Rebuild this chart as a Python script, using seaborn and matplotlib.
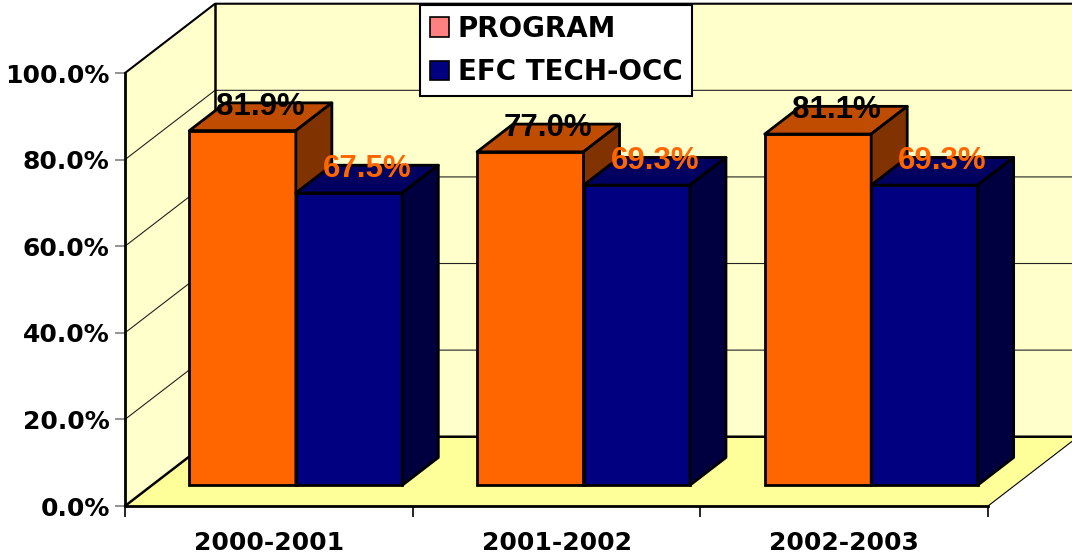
import pandas as pd
import matplotlib
matplotlib.use("Agg")
import matplotlib.pyplot as plt
from matplotlib.patches import Polygon, Patch
import seaborn as sns

# Chart data
YEARS = ["2000-2001", "2001-2002", "2002-2003"]
SERIES = ["PROGRAM", "EFC TECH-OCC"]
PROGRAM = [81.9, 77.0, 81.1]
EFC_TECH_OCC = [67.5, 69.3, 69.3]
Y_TICKS = [0, 20, 40, 60, 80, 100]

# Colours (front, top, side)
SERIES_COLORS = {
    "PROGRAM": ("#FF6600", "#BF4C00", "#803300"),
    "EFC TECH-OCC": ("#000080", "#000060", "#000040"),
}
LEGEND_COLORS = ["#FF8080", "#000080"]
LABEL_COLORS = ["black", "#FF6600"]
WALL = "#FFFFCC"
FLOOR = "#FFFF99"

# Fake 3D projection (data units)
DX, DY = 0.313, 16.0          # full depth of the box
OX, OY = 0.3 * DX, 0.3 * DY   # front face of the bars
BDX, BDY = 0.4 * DX, 0.4 * DY  # depth of one bar


def draw_box(ax):
    """Walls, floor and gridlines of the 3D box."""
    x0, x1 = -0.5, 2.5
    kw = dict(clip_on=False)
    ax.add_patch(Polygon([(x0 + DX, DY), (x1 + DX + 0.5, DY),
                          (x1 + DX + 0.5, 100 + DY), (x0 + DX, 100 + DY)],
                         facecolor=WALL, edgecolor="none", zorder=0, **kw))
    ax.add_patch(Polygon([(x0, 0), (x0, 100), (x0 + DX, 100 + DY), (x0 + DX, DY)],
                         facecolor=WALL, edgecolor="none", zorder=0, **kw))
    ax.add_patch(Polygon([(x0, 0), (x1, 0), (x1 + DX, DY), (x0 + DX, DY)],
                         facecolor=FLOOR, edgecolor="none", zorder=0.5, **kw))
    for v in Y_TICKS[1:-1]:
        ax.plot([x0, x0 + DX, x1 + DX + 0.5], [v, v + DY, v + DY],
                color="#222222", lw=0.8, zorder=0.6, **kw)
    # box outline
    ax.plot([x0, x0 + DX, x1 + DX + 0.5], [100, 100 + DY, 100 + DY],
            color="black", lw=1.5, zorder=0.7, **kw)
    ax.plot([x0 + DX, x0 + DX], [DY, 100 + DY], color="black", lw=1.8, zorder=0.7, **kw)
    ax.plot([x0, x0 + DX, x1 + DX + 0.5], [0, DY, DY], color="black", lw=1.8, zorder=0.7, **kw)
    ax.plot([x1, x1 + DX], [0, DY], color="black", lw=0.8, zorder=0.7, **kw)


def main():
    sns.set_style("white")
    plt.rcParams["font.family"] = ["DejaVu Sans"]
    plt.rcParams["text.color"] = "black"
    plt.rcParams["xtick.color"] = "black"
    plt.rcParams["ytick.color"] = "black"

    df = pd.DataFrame({
        "year": YEARS * 2,
        "series": [SERIES[0]] * 3 + [SERIES[1]] * 3,
        "value": PROGRAM + EFC_TECH_OCC,
    })

    fig = plt.figure(figsize=(10.72, 5.59), dpi=100)
    ax = fig.add_axes([125 / 1072, 53 / 559, 863 / 1072, 433 / 559])

    sns.barplot(data=df, x="year", y="value", hue="series", order=YEARS,
                hue_order=SERIES, palette=[SERIES_COLORS[s][0] for s in SERIES],
                width=0.74, edgecolor="black", linewidth=2, saturation=1,
                legend=False, ax=ax)
    bars = list(ax.patches)

    draw_box(ax)

    # Turn flat bars into boxes and label them
    for i, bar in enumerate(bars):
        s = i // len(YEARS)
        front, top, side = SERIES_COLORS[SERIES[s]]
        x = bar.get_x() + OX
        w = bar.get_width()
        h = bar.get_height()
        z = 10 + 2 * x
        bar.set_x(x)
        bar.set_y(OY)
        bar.set_zorder(z)
        bar.set_clip_on(False)
        yt = OY + h
        ax.add_patch(Polygon([(x, yt), (x + w, yt), (x + w + BDX, yt + BDY), (x + BDX, yt + BDY)],
                             facecolor=top, edgecolor="black", lw=2, joinstyle="round",
                             zorder=z, clip_on=False))
        ax.add_patch(Polygon([(x + w, OY), (x + w + BDX, OY + BDY), (x + w + BDX, yt + BDY), (x + w, yt)],
                             facecolor=side, edgecolor="black", lw=2, joinstyle="round",
                             zorder=z, clip_on=False))
        ax.text(x + w / 2 + BDX / 2, yt + BDY / 2 + 2.3, f"{h:.1f}%",
                ha="center", va="center", color=LABEL_COLORS[s],
                family="Liberation Sans", fontweight="bold", fontsize=22.5,
                zorder=50, clip_on=False)

    ax.set_xlim(-0.5, 2.5)
    ax.set_ylim(0, 100)
    ax.set_facecolor("none")
    ax.set_xlabel("")
    ax.set_ylabel("")

    ax.set_yticks(Y_TICKS)
    ax.set_yticklabels([f"{v:.1f}%" for v in Y_TICKS], fontweight="bold", fontsize=18,
                       color="black")
    ax.tick_params(axis="y", left=True, length=7, width=1.2, color="#808080", pad=4)

    ax.set_xticks([-0.5, 0.5, 1.5, 2.5])
    ax.set_xticklabels([])
    ax.set_xticks([0, 1, 2], minor=True)
    ax.set_xticklabels(YEARS, minor=True, fontweight="bold", fontsize=18, color="black")
    ax.tick_params(axis="x", which="major", bottom=True, length=8, width=1.2, color="black")
    ax.tick_params(axis="x", which="minor", bottom=True, length=0, pad=18)

    for side_name in ["top", "right"]:
        ax.spines[side_name].set_visible(False)
    for side_name in ["left", "bottom"]:
        ax.spines[side_name].set_color("black")
        ax.spines[side_name].set_linewidth(2)
        ax.spines[side_name].set_zorder(5)

    handles = [Patch(facecolor=c, edgecolor="black", lw=1.2) for c in LEGEND_COLORS]
    leg = fig.legend(handles, SERIES, loc="upper left", bbox_to_anchor=(420 / 1072, 554 / 559),
                     bbox_transform=fig.transFigure, borderaxespad=0, fancybox=False,
                     framealpha=1, edgecolor="black", handlelength=0.7, handleheight=0.7,
                     handletextpad=0.3, labelspacing=0.55, borderpad=0.35,
                     prop={"weight": "bold", "size": 20})
    leg.get_frame().set_linewidth(1.5)
    for t in leg.get_texts():
        t.set_color("black")
    leg.set_zorder(100)

    fig.savefig("out.png", dpi=100)
    plt.close(fig)


if __name__ == "__main__":
    main()
